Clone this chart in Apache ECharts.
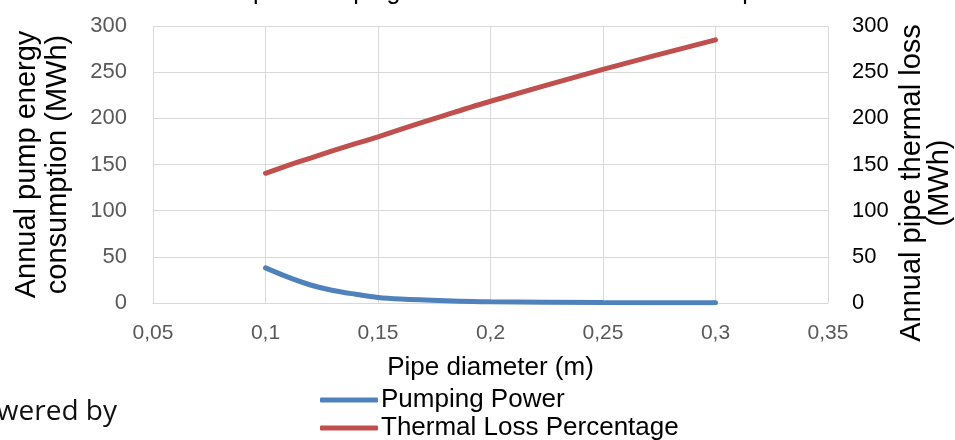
<!DOCTYPE html>
<html>
<head>
<meta charset="utf-8">
<script src="https://cdn.jsdelivr.net/npm/echarts@6/dist/echarts.min.js"></script>
<style>
  html, body { margin: 0; padding: 0; background: #fff; }
  #chart { width: 955px; height: 440px; }
</style>
</head>
<body>
<div id="chart"></div>
<script>
// Pipe diameter vs annual pump energy / pipe thermal loss

const diameters = [0.1, 0.11, 0.12, 0.13, 0.14, 0.15, 0.16, 0.18, 0.2, 0.25, 0.3];
const pumpingPower = [38, 28, 19.5, 13.5, 9.5, 6, 4.3, 2.5, 1.3, 0.5, 0.3];
const thermalLoss = [140.5, 149, 157, 165, 172.5, 180, 188, 203.5, 218.5, 253, 285];
const seriesNames = ['Pumping Power', 'Thermal Loss Percentage'];

const COLORS = { blue: '#4f81bd', red: '#c0504d', grid: '#d9d9d9', tick: '#595959' };
const FONT = '"Liberation Sans", Arial, sans-serif';

const chart = echarts.init(document.getElementById('chart'));

const fmtComma = v => String(+v.toFixed(2)).replace('.', ',');

chart.setOption({
  animation: false,
  textStyle: { fontFamily: FONT },
  title: {
    text: 'Relationship of Pumping Power and Thermal Loss to Pipe Size',
    left: 'center',
    top: -25,
    textStyle: { fontFamily: FONT, fontSize: 25, fontWeight: 'normal', color: '#000' }
  },
  grid: { left: 153, right: 127, top: 26, bottom: 137 },
  legend: {
    orient: 'vertical',
    left: 320,
    top: 387,
    height: 60,
    padding: 0,
    itemWidth: 58,
    itemHeight: 5,
    itemGap: 2,
    icon: 'roundRect',
    textStyle: { fontFamily: FONT, fontSize: 26, lineHeight: 26, color: '#000', padding: [0, 0, 0, -2] },
    data: seriesNames
  },
  xAxis: {
    type: 'value',
    min: 0.05,
    max: 0.35,
    interval: 0.05,
    name: 'Pipe diameter (m)',
    nameLocation: 'middle',
    nameGap: 52,
    nameTextStyle: { fontFamily: FONT, fontSize: 26, color: '#000' },
    axisLine: { show: true, lineStyle: { color: COLORS.grid } },
    axisTick: { show: false },
    axisLabel: { color: COLORS.tick, fontSize: 21, margin: 20, formatter: fmtComma },
    splitLine: { show: true, lineStyle: { color: COLORS.grid, width: 1 } }
  },
  yAxis: [
    {
      type: 'value',
      min: 0,
      max: 300,
      interval: 50,
      name: 'Annual pump energy\nconsumption (MWh)',
      nameLocation: 'middle',
      nameRotate: 90,
      nameGap: 80,
      nameTextStyle: { fontFamily: FONT, fontSize: 29, color: '#000', lineHeight: 31 },
      axisLine: { show: false },
      axisTick: { show: false },
      axisLabel: { color: COLORS.tick, fontSize: 22, margin: 26 },
      splitLine: { show: true, lineStyle: { color: COLORS.grid, width: 1 } }
    },
    {
      type: 'value',
      min: 0,
      max: 300,
      interval: 50,
      position: 'right',
      axisLine: { show: false },
      axisTick: { show: false },
      axisLabel: { color: '#000', fontSize: 22, margin: 24 },
      splitLine: { show: false }
    }
  ],
  graphic: [
    {
      type: 'text',
      x: 926,
      y: 183,
      rotation: Math.PI / 2,
      style: {
        text: 'Annual pipe thermal loss\n(MWh)',
        fontFamily: FONT,
        fontSize: 29,
        lineHeight: 28,
        fill: '#000',
        align: 'center',
        verticalAlign: 'middle'
      }
    },
    {
      type: 'text',
      x: 117,
      y: 412,
      style: {
        text: 'Powered by',
        fontFamily: '"Open Sans", sans-serif',
        fontSize: 28,
        fill: '#111',
        align: 'right',
        verticalAlign: 'middle'
      }
    }
  ],
  series: [
    {
      name: seriesNames[0],
      type: 'line',
      yAxisIndex: 0,
      data: diameters.map((d, i) => [d, pumpingPower[i]]),
      smooth: 0.3,
      showSymbol: false,
      lineStyle: { color: COLORS.blue, width: 5, cap: 'round' },
      itemStyle: { color: COLORS.blue }
    },
    {
      name: seriesNames[1],
      type: 'line',
      yAxisIndex: 1,
      data: diameters.map((d, i) => [d, thermalLoss[i]]),
      smooth: 0.3,
      showSymbol: false,
      lineStyle: { color: COLORS.red, width: 5, cap: 'round' },
      itemStyle: { color: COLORS.red }
    }
  ]
});
</script>
</body>
</html>
